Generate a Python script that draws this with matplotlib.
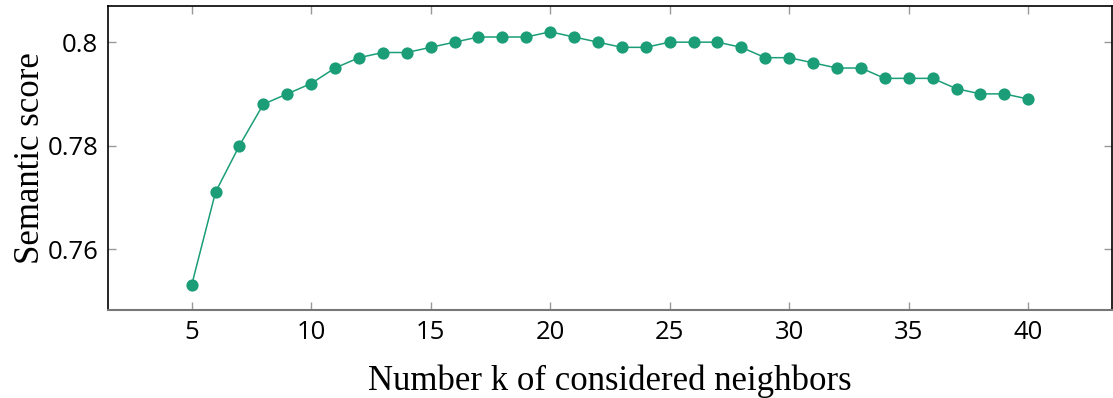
import matplotlib
matplotlib.use("Agg")
import matplotlib.pyplot as plt

k_values = list(range(5, 41))
semantic_score = [0.753, 0.771, 0.780, 0.788, 0.790, 0.792, 0.795, 0.797, 0.798, 0.798,
                  0.799, 0.800, 0.801, 0.801, 0.801, 0.802, 0.801, 0.800, 0.799, 0.799,
                  0.800, 0.800, 0.800, 0.799, 0.797, 0.797, 0.796, 0.795, 0.795, 0.793,
                  0.793, 0.793, 0.791, 0.790, 0.790, 0.789]
x_ticks = [5, 10, 15, 20, 25, 30, 35, 40]
y_ticks = [0.76, 0.78, 0.80]
y_tick_labels = ["0.76", "0.78", "0.8"]

fig = plt.figure(figsize=(11.13, 3.98), dpi=100)
ax = fig.add_axes([0.097, 0.221, 0.902, 0.764])
color = "#1b9e77"
ax.plot(k_values, semantic_score, color=color, lw=1.1, marker="o", markersize=8.8,
        markeredgewidth=0)
ax.set_xlim(1.5, 43.5)
ax.set_ylim(0.7482, 0.807)
ax.set_xticks(x_ticks)
ax.set_yticks(y_ticks)
ax.set_yticklabels(y_tick_labels)
ax.tick_params(direction="in", length=6, width=1, color="#999999",
               top=True, right=True, labelsize=18.5, pad=7)
for lab in ax.get_xticklabels() + ax.get_yticklabels():
    lab.set_fontfamily("Open Sans")
for s in ["left", "top", "right"]:
    ax.spines[s].set_color("black")
    ax.spines[s].set_linewidth(1.2)
ax.spines["bottom"].set_color("#777777")
ax.spines["bottom"].set_linewidth(1.5)
ax.set_xlabel("Number k of considered neighbors", fontsize=25, family="Liberation Serif", labelpad=14)
ax.set_ylabel("Semantic score", fontsize=25, family="Liberation Serif", labelpad=0)
fig.savefig("out.png", dpi=100)
